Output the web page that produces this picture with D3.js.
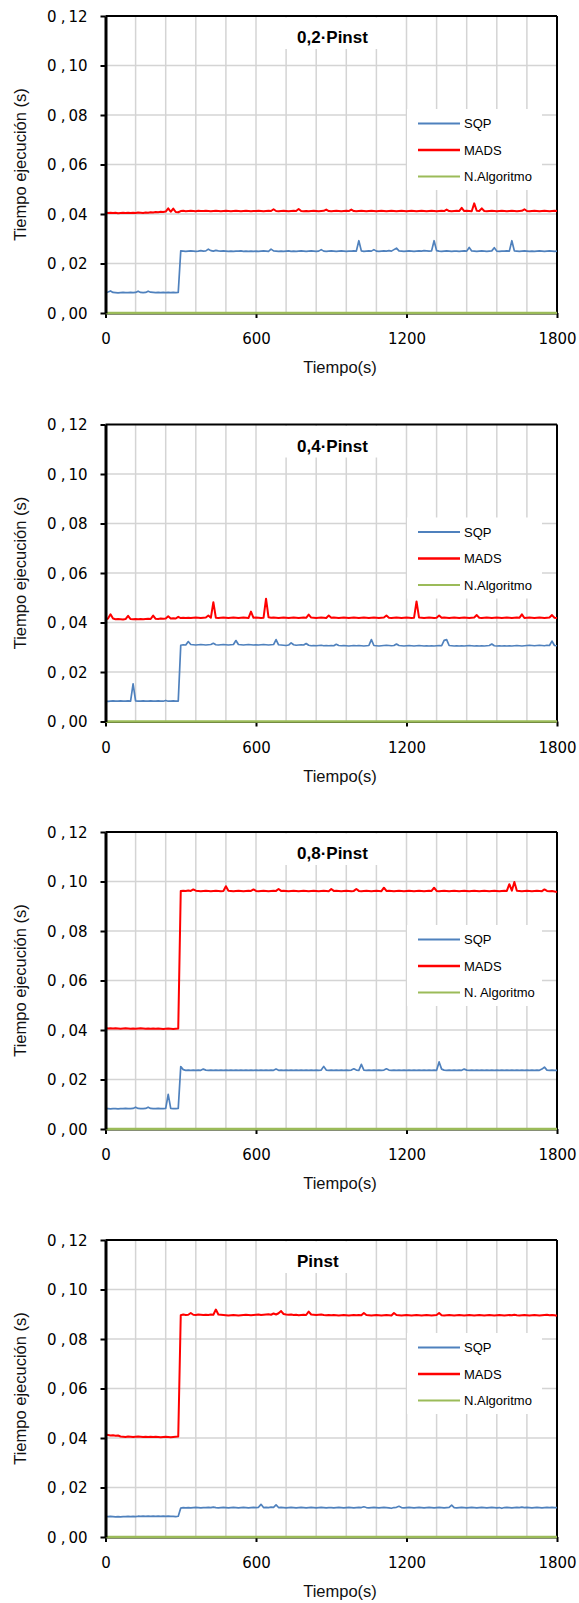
<!DOCTYPE html>
<html lang="es">
<head>
<meta charset="utf-8">
<title>Tiempo de ejecución</title>
<script src="https://cdn.jsdelivr.net/npm/d3@7"></script>
<style>
  html, body { margin: 0; padding: 0; background: #ffffff; }
  svg { display: block; }
</style>
</head>
<body>
<svg id="chart" width="579" height="1603"></svg>
<script>
// Tiempo de muestreo (s)
const tiempo = d3.range(0, 1801, 10);
const ticksX = [0, 600, 1200, 1800];
const ticksY = [0, 0.02, 0.04, 0.06, 0.08, 0.10, 0.12];
const series = ["SQP", "MADS", "N.Algoritmo"];
const titulos = ["0,2·Pinst", "0,4·Pinst", "0,8·Pinst", "Pinst"];
const etiquetasN = ["N.Algoritmo", "N.Algoritmo", "N. Algoritmo", "N.Algoritmo"];

// N.Algoritmo: tiempo de ejecución prácticamente nulo
const nAlgTiempo = [0, 300, 600, 900, 1200, 1500, 1800];
const nAlgValores = [0, 0, 0, 0, 0, 0, 0];

// 0,2·Pinst
const sqp02 = [
0.0083,0.0085,0.0089,0.0083,0.0082,0.0081,0.0082,0.0083,0.0082,0.0082,
0.0083,0.0082,0.0083,0.0088,0.0083,0.0082,0.0083,0.0088,0.0084,0.0083,
0.0082,0.0083,0.0082,0.0083,0.0082,0.0083,0.0082,0.0083,0.0082,0.0083,
0.0251,0.0250,0.0249,0.0250,0.0251,0.0250,0.0249,0.0250,0.0252,0.0250,
0.0251,0.0258,0.0252,0.0250,0.0253,0.0251,0.0250,0.0251,0.0250,0.0249,
0.0250,0.0249,0.0250,0.0250,0.0251,0.0249,0.0250,0.0249,0.0250,0.0249,
0.0250,0.0249,0.0250,0.0251,0.0250,0.0249,0.0258,0.0251,0.0250,0.0249,
0.0250,0.0249,0.0250,0.0251,0.0249,0.0250,0.0249,0.0250,0.0251,0.0250,
0.0249,0.0250,0.0251,0.0250,0.0249,0.0250,0.0256,0.0250,0.0249,0.0250,
0.0251,0.0250,0.0249,0.0250,0.0251,0.0250,0.0249,0.0250,0.0250,0.0251,
0.0250,0.0292,0.0251,0.0249,0.0250,0.0251,0.0250,0.0256,0.0250,0.0249,
0.0250,0.0251,0.0250,0.0252,0.0250,0.0256,0.0262,0.0251,0.0250,0.0249,
0.0250,0.0251,0.0250,0.0249,0.0250,0.0251,0.0250,0.0252,0.0251,0.0250,
0.0251,0.0292,0.0252,0.0250,0.0249,0.0250,0.0251,0.0250,0.0249,0.0250,
0.0250,0.0249,0.0250,0.0251,0.0250,0.0265,0.0251,0.0250,0.0249,0.0250,
0.0251,0.0250,0.0249,0.0250,0.0251,0.0264,0.0250,0.0249,0.0250,0.0250,
0.0251,0.0250,0.0292,0.0251,0.0250,0.0249,0.0250,0.0251,0.0250,0.0249,
0.0250,0.0249,0.0250,0.0251,0.0250,0.0249,0.0250,0.0251,0.0250,0.0249,
0.0250];
const mads02 = [
0.0406,0.0404,0.0405,0.0404,0.0405,0.0403,0.0404,0.0405,0.0404,0.0405,
0.0404,0.0405,0.0404,0.0406,0.0405,0.0404,0.0406,0.0405,0.0407,0.0406,
0.0408,0.0407,0.0409,0.0408,0.0410,0.0423,0.0409,0.0422,0.0408,0.0407,
0.0412,0.0413,0.0411,0.0412,0.0413,0.0412,0.0411,0.0413,0.0412,0.0412,
0.0413,0.0412,0.0411,0.0412,0.0413,0.0412,0.0411,0.0412,0.0413,0.0412,
0.0411,0.0412,0.0413,0.0412,0.0411,0.0412,0.0413,0.0412,0.0411,0.0412,
0.0412,0.0413,0.0412,0.0411,0.0412,0.0413,0.0412,0.0419,0.0412,0.0411,
0.0412,0.0413,0.0412,0.0411,0.0412,0.0413,0.0412,0.0420,0.0412,0.0411,
0.0412,0.0411,0.0412,0.0413,0.0412,0.0411,0.0412,0.0413,0.0418,0.0412,
0.0411,0.0412,0.0413,0.0412,0.0411,0.0412,0.0413,0.0412,0.0418,0.0412,
0.0411,0.0412,0.0413,0.0412,0.0411,0.0412,0.0413,0.0412,0.0411,0.0412,
0.0413,0.0412,0.0411,0.0412,0.0413,0.0412,0.0411,0.0412,0.0413,0.0412,
0.0411,0.0412,0.0413,0.0412,0.0411,0.0412,0.0413,0.0412,0.0411,0.0412,
0.0413,0.0412,0.0411,0.0412,0.0413,0.0412,0.0418,0.0412,0.0411,0.0412,
0.0413,0.0412,0.0425,0.0412,0.0413,0.0412,0.0411,0.0443,0.0413,0.0412,
0.0423,0.0412,0.0411,0.0412,0.0413,0.0412,0.0411,0.0412,0.0413,0.0412,
0.0411,0.0412,0.0413,0.0412,0.0411,0.0412,0.0413,0.0419,0.0412,0.0411,
0.0412,0.0413,0.0412,0.0411,0.0412,0.0413,0.0412,0.0411,0.0412,0.0413,
0.0412];

// 0,4·Pinst
const sqp04 = [
0.0082,0.0081,0.0082,0.0083,0.0082,0.0082,0.0083,0.0082,0.0082,0.0083,
0.0082,0.0152,0.0083,0.0082,0.0082,0.0083,0.0082,0.0082,0.0083,0.0082,
0.0082,0.0083,0.0082,0.0082,0.0085,0.0082,0.0082,0.0083,0.0082,0.0082,
0.0308,0.0310,0.0309,0.0323,0.0311,0.0310,0.0309,0.0310,0.0311,0.0310,
0.0309,0.0310,0.0311,0.0316,0.0310,0.0309,0.0310,0.0311,0.0310,0.0309,
0.0310,0.0311,0.0327,0.0311,0.0310,0.0309,0.0310,0.0311,0.0310,0.0309,
0.0310,0.0309,0.0310,0.0311,0.0310,0.0309,0.0310,0.0311,0.0331,0.0310,
0.0309,0.0308,0.0307,0.0309,0.0318,0.0310,0.0308,0.0309,0.0310,0.0309,
0.0315,0.0308,0.0306,0.0307,0.0306,0.0307,0.0308,0.0306,0.0307,0.0306,
0.0307,0.0306,0.0312,0.0307,0.0306,0.0307,0.0306,0.0305,0.0306,0.0307,
0.0306,0.0307,0.0306,0.0305,0.0306,0.0307,0.0331,0.0307,0.0306,0.0305,
0.0306,0.0307,0.0308,0.0307,0.0306,0.0307,0.0313,0.0307,0.0306,0.0305,
0.0306,0.0307,0.0306,0.0305,0.0306,0.0307,0.0306,0.0305,0.0306,0.0305,
0.0306,0.0305,0.0306,0.0307,0.0306,0.0328,0.0331,0.0307,0.0306,0.0305,
0.0306,0.0305,0.0306,0.0305,0.0306,0.0307,0.0306,0.0305,0.0306,0.0305,
0.0306,0.0305,0.0306,0.0307,0.0313,0.0306,0.0305,0.0306,0.0305,0.0306,
0.0305,0.0306,0.0305,0.0306,0.0307,0.0306,0.0305,0.0306,0.0307,0.0308,
0.0307,0.0306,0.0307,0.0308,0.0307,0.0306,0.0308,0.0307,0.0325,0.0307,
0.0306];
const mads04 = [
0.0412,0.0416,0.0433,0.0416,0.0413,0.0414,0.0413,0.0412,0.0414,0.0427,
0.0414,0.0413,0.0414,0.0413,0.0414,0.0413,0.0414,0.0415,0.0414,0.0428,
0.0415,0.0414,0.0416,0.0415,0.0416,0.0425,0.0416,0.0417,0.0416,0.0423,
0.0418,0.0419,0.0418,0.0419,0.0418,0.0419,0.0420,0.0419,0.0418,0.0419,
0.0420,0.0428,0.0419,0.0482,0.0419,0.0418,0.0419,0.0420,0.0419,0.0418,
0.0419,0.0420,0.0419,0.0418,0.0419,0.0420,0.0419,0.0418,0.0444,0.0419,
0.0420,0.0419,0.0418,0.0419,0.0496,0.0421,0.0419,0.0420,0.0419,0.0418,
0.0419,0.0420,0.0419,0.0418,0.0419,0.0420,0.0419,0.0418,0.0419,0.0420,
0.0419,0.0432,0.0420,0.0419,0.0418,0.0419,0.0420,0.0419,0.0418,0.0428,
0.0419,0.0420,0.0419,0.0418,0.0419,0.0420,0.0419,0.0418,0.0419,0.0420,
0.0419,0.0418,0.0419,0.0420,0.0419,0.0418,0.0419,0.0420,0.0419,0.0418,
0.0419,0.0420,0.0428,0.0419,0.0418,0.0419,0.0420,0.0419,0.0418,0.0419,
0.0420,0.0419,0.0418,0.0419,0.0485,0.0420,0.0419,0.0418,0.0419,0.0420,
0.0419,0.0418,0.0419,0.0428,0.0419,0.0420,0.0419,0.0418,0.0419,0.0420,
0.0419,0.0418,0.0419,0.0420,0.0419,0.0418,0.0419,0.0420,0.0430,0.0419,
0.0418,0.0419,0.0420,0.0419,0.0418,0.0419,0.0420,0.0419,0.0418,0.0419,
0.0420,0.0419,0.0418,0.0419,0.0420,0.0419,0.0433,0.0418,0.0419,0.0420,
0.0419,0.0418,0.0419,0.0420,0.0419,0.0418,0.0419,0.0420,0.0430,0.0419,
0.0418];

// 0,8·Pinst
const sqp08 = [
0.0083,0.0082,0.0081,0.0082,0.0082,0.0081,0.0082,0.0082,0.0083,0.0082,
0.0082,0.0083,0.0088,0.0083,0.0082,0.0082,0.0083,0.0088,0.0083,0.0082,
0.0082,0.0083,0.0082,0.0082,0.0083,0.0140,0.0083,0.0082,0.0082,0.0083,
0.0252,0.0240,0.0237,0.0238,0.0237,0.0238,0.0237,0.0238,0.0237,0.0242,
0.0238,0.0237,0.0238,0.0237,0.0238,0.0237,0.0238,0.0237,0.0238,0.0237,
0.0238,0.0237,0.0238,0.0237,0.0238,0.0237,0.0238,0.0237,0.0238,0.0237,
0.0238,0.0237,0.0238,0.0237,0.0238,0.0237,0.0238,0.0237,0.0242,0.0237,
0.0238,0.0237,0.0238,0.0237,0.0238,0.0237,0.0238,0.0237,0.0238,0.0237,
0.0238,0.0237,0.0238,0.0237,0.0238,0.0237,0.0238,0.0253,0.0238,0.0237,
0.0238,0.0237,0.0238,0.0237,0.0238,0.0237,0.0238,0.0237,0.0238,0.0243,
0.0238,0.0237,0.0261,0.0238,0.0237,0.0238,0.0237,0.0238,0.0237,0.0238,
0.0237,0.0238,0.0243,0.0238,0.0237,0.0238,0.0237,0.0238,0.0237,0.0238,
0.0237,0.0238,0.0237,0.0238,0.0237,0.0238,0.0237,0.0238,0.0237,0.0238,
0.0237,0.0238,0.0237,0.0271,0.0242,0.0238,0.0237,0.0238,0.0237,0.0238,
0.0237,0.0238,0.0237,0.0242,0.0238,0.0237,0.0238,0.0237,0.0238,0.0237,
0.0238,0.0237,0.0238,0.0237,0.0238,0.0237,0.0238,0.0237,0.0238,0.0237,
0.0238,0.0237,0.0238,0.0237,0.0238,0.0237,0.0238,0.0237,0.0238,0.0237,
0.0238,0.0237,0.0238,0.0237,0.0242,0.0250,0.0238,0.0237,0.0238,0.0237,
0.0237];
const mads08 = [
0.0408,0.0406,0.0407,0.0406,0.0407,0.0406,0.0405,0.0406,0.0407,0.0406,
0.0405,0.0406,0.0405,0.0406,0.0407,0.0406,0.0405,0.0406,0.0405,0.0406,
0.0405,0.0406,0.0405,0.0404,0.0405,0.0406,0.0405,0.0404,0.0405,0.0406,
0.0962,0.0963,0.0962,0.0964,0.0962,0.0968,0.0963,0.0962,0.0961,0.0962,
0.0963,0.0962,0.0961,0.0962,0.0963,0.0962,0.0961,0.0962,0.0981,0.0963,
0.0962,0.0961,0.0962,0.0963,0.0962,0.0961,0.0962,0.0963,0.0962,0.0968,
0.0962,0.0961,0.0962,0.0963,0.0962,0.0961,0.0962,0.0963,0.0962,0.0970,
0.0962,0.0963,0.0962,0.0961,0.0962,0.0963,0.0962,0.0961,0.0962,0.0963,
0.0962,0.0961,0.0962,0.0963,0.0962,0.0961,0.0962,0.0963,0.0962,0.0961,
0.0970,0.0962,0.0963,0.0962,0.0961,0.0962,0.0963,0.0962,0.0961,0.0962,
0.0970,0.0962,0.0961,0.0962,0.0963,0.0962,0.0961,0.0962,0.0963,0.0962,
0.0961,0.0975,0.0962,0.0963,0.0962,0.0961,0.0962,0.0963,0.0962,0.0961,
0.0962,0.0963,0.0962,0.0961,0.0962,0.0963,0.0962,0.0961,0.0962,0.0963,
0.0962,0.0975,0.0962,0.0961,0.0962,0.0963,0.0962,0.0961,0.0962,0.0963,
0.0962,0.0961,0.0962,0.0963,0.0962,0.0961,0.0962,0.0963,0.0962,0.0961,
0.0962,0.0963,0.0962,0.0961,0.0962,0.0963,0.0962,0.0961,0.0962,0.0963,
0.0962,0.0989,0.0963,0.0998,0.0963,0.0962,0.0961,0.0962,0.0963,0.0962,
0.0961,0.0962,0.0963,0.0962,0.0961,0.0968,0.0962,0.0961,0.0962,0.0960,
0.0958];

// Pinst
const sqp10 = [
0.0083,0.0082,0.0083,0.0082,0.0081,0.0082,0.0081,0.0082,0.0082,0.0083,
0.0082,0.0083,0.0082,0.0084,0.0083,0.0084,0.0083,0.0084,0.0083,0.0084,
0.0083,0.0084,0.0083,0.0084,0.0083,0.0084,0.0083,0.0083,0.0082,0.0084,
0.0117,0.0119,0.0118,0.0119,0.0118,0.0119,0.0120,0.0119,0.0118,0.0119,
0.0119,0.0120,0.0119,0.0121,0.0119,0.0118,0.0119,0.0120,0.0119,0.0118,
0.0119,0.0120,0.0119,0.0118,0.0119,0.0120,0.0119,0.0118,0.0119,0.0120,
0.0119,0.0120,0.0132,0.0119,0.0120,0.0119,0.0121,0.0120,0.0130,0.0119,
0.0120,0.0119,0.0118,0.0119,0.0120,0.0119,0.0118,0.0119,0.0120,0.0119,
0.0118,0.0119,0.0120,0.0119,0.0118,0.0119,0.0120,0.0119,0.0118,0.0119,
0.0119,0.0118,0.0119,0.0120,0.0119,0.0118,0.0119,0.0120,0.0119,0.0118,
0.0119,0.0120,0.0119,0.0122,0.0119,0.0118,0.0119,0.0120,0.0119,0.0118,
0.0119,0.0120,0.0119,0.0118,0.0116,0.0119,0.0120,0.0124,0.0119,0.0118,
0.0119,0.0120,0.0119,0.0118,0.0119,0.0120,0.0119,0.0118,0.0119,0.0120,
0.0119,0.0118,0.0119,0.0120,0.0119,0.0118,0.0119,0.0120,0.0129,0.0119,
0.0118,0.0119,0.0120,0.0119,0.0118,0.0119,0.0120,0.0119,0.0118,0.0119,
0.0120,0.0119,0.0118,0.0119,0.0120,0.0119,0.0118,0.0119,0.0116,0.0119,
0.0120,0.0119,0.0118,0.0119,0.0120,0.0119,0.0121,0.0119,0.0120,0.0119,
0.0118,0.0119,0.0120,0.0119,0.0118,0.0119,0.0120,0.0119,0.0120,0.0119,
0.0119];
const mads10 = [
0.0414,0.0412,0.0410,0.0411,0.0409,0.0410,0.0406,0.0405,0.0404,0.0406,
0.0405,0.0404,0.0405,0.0406,0.0405,0.0404,0.0405,0.0404,0.0405,0.0404,
0.0405,0.0404,0.0403,0.0404,0.0405,0.0404,0.0403,0.0404,0.0405,0.0406,
0.0896,0.0899,0.0897,0.0898,0.0905,0.0898,0.0897,0.0899,0.0898,0.0897,
0.0898,0.0897,0.0899,0.0898,0.0919,0.0899,0.0898,0.0897,0.0896,0.0895,
0.0896,0.0897,0.0896,0.0895,0.0896,0.0897,0.0898,0.0897,0.0896,0.0897,
0.0898,0.0899,0.0897,0.0898,0.0899,0.0900,0.0898,0.0903,0.0899,0.0904,
0.0913,0.0901,0.0899,0.0898,0.0899,0.0897,0.0898,0.0896,0.0897,0.0898,
0.0897,0.0911,0.0899,0.0898,0.0897,0.0898,0.0899,0.0897,0.0896,0.0897,
0.0896,0.0897,0.0896,0.0895,0.0896,0.0897,0.0896,0.0895,0.0896,0.0897,
0.0896,0.0897,0.0896,0.0905,0.0897,0.0896,0.0895,0.0896,0.0897,0.0896,
0.0895,0.0896,0.0897,0.0896,0.0895,0.0905,0.0897,0.0896,0.0895,0.0896,
0.0897,0.0896,0.0895,0.0896,0.0897,0.0896,0.0895,0.0896,0.0897,0.0896,
0.0895,0.0896,0.0897,0.0905,0.0896,0.0895,0.0896,0.0897,0.0896,0.0895,
0.0896,0.0897,0.0896,0.0895,0.0896,0.0897,0.0896,0.0895,0.0896,0.0897,
0.0896,0.0895,0.0896,0.0897,0.0896,0.0895,0.0896,0.0897,0.0896,0.0895,
0.0896,0.0897,0.0896,0.0898,0.0896,0.0895,0.0896,0.0897,0.0896,0.0895,
0.0896,0.0897,0.0896,0.0895,0.0896,0.0897,0.0898,0.0896,0.0897,0.0896,
0.0894];

const paneles = [
  { titulo: titulos[0], sqp: sqp02, mads: mads02, etiquetaN: etiquetasN[0] },
  { titulo: titulos[1], sqp: sqp04, mads: mads04, etiquetaN: etiquetasN[1] },
  { titulo: titulos[2], sqp: sqp08, mads: mads08, etiquetaN: etiquetasN[2] },
  { titulo: titulos[3], sqp: sqp10, mads: mads10, etiquetaN: etiquetasN[3] }
];

// ---- Dibujo ----
const colores = { SQP: "#4F81BD", MADS: "#FF0000", N: "#9BBB59" };
const svg = d3.select("#chart");
const left = 105.5, right = 557, alto = 297;
const tops = [16, 424.5, 832, 1240];

const x = d3.scaleLinear().domain([0, 1800]).range([left, right]);
const fuenteEjes = "'DejaVu Sans', Verdana, sans-serif";
const fuenteTexto = "'Liberation Sans', Arial, sans-serif";

paneles.forEach((p, i) => {
  const top = tops[i], bottom = top + alto;
  const y = d3.scaleLinear().domain([0, 0.12]).range([bottom, top]);
  const g = svg.append("g");

  // Rejilla
  g.append("g").selectAll("line.v").data(d3.range(120, 1800, 120)).join("line")
    .attr("x1", d => x(d)).attr("x2", d => x(d)).attr("y1", top).attr("y2", bottom)
    .attr("stroke", "#D4D4D4").attr("stroke-width", 1.5);
  g.append("g").selectAll("line.h").data(ticksY.slice(1, -1)).join("line")
    .attr("x1", left).attr("x2", right).attr("y1", d => y(d)).attr("y2", d => y(d))
    .attr("stroke", "#D4D4D4").attr("stroke-width", 1.5);

  // Título del panel con fondo blanco
  const titulo = g.append("text")
    .attr("x", 297).attr("y", top + 27)
    .attr("font-family", fuenteTexto).attr("font-weight", "bold").attr("font-size", 17)
    .attr("fill", "#000").text(p.titulo);
  const bb = titulo.node().getBBox();
  g.insert("rect", "text")
    .attr("x", bb.x - 12).attr("y", top + 1.5).attr("width", bb.width + 24).attr("height", 31.5)
    .attr("fill", "#fff");

  // Fondo de la leyenda
  g.append("rect").attr("x", 407).attr("y", top + 93).attr("width", 135).attr("height", 81)
    .attr("fill", "#fff");

  // Marco (superior, derecho)
  g.append("line").attr("x1", left).attr("x2", right).attr("y1", top).attr("y2", top)
    .attr("stroke", "#000").attr("stroke-width", 2);
  g.append("line").attr("x1", right).attr("x2", right).attr("y1", top).attr("y2", bottom)
    .attr("stroke", "#000").attr("stroke-width", 2);

  // Eje X
  const ejeX = g.append("g").attr("transform", `translate(0,${bottom})`)
    .call(d3.axisBottom(x).tickValues(ticksX).tickFormat(d3.format("d"))
      .tickSize(5).tickSizeOuter(0));
  ejeX.select(".domain").attr("stroke", "#000").attr("stroke-width", 2);
  ejeX.selectAll(".tick line").attr("stroke", "#000").attr("stroke-width", 2);
  ejeX.selectAll(".tick text").attr("font-family", fuenteEjes).attr("font-size", 15)
    .attr("fill", "#000").attr("dy", null).attr("y", 31);

  // Series
  const linea = d3.line().x(d => x(d[0])).y(d => y(d[1]));
  g.append("path").datum(tiempo.map((t, k) => [t, p.sqp[k]]))
    .attr("d", linea).attr("fill", "none").attr("stroke", colores.SQP)
    .attr("stroke-width", 1.7).attr("stroke-linejoin", "round");
  g.append("path").datum(tiempo.map((t, k) => [t, p.mads[k]]))
    .attr("d", linea).attr("fill", "none").attr("stroke", colores.MADS)
    .attr("stroke-width", 2).attr("stroke-linejoin", "round");
  g.append("path").datum(nAlgTiempo.map((t, k) => [t, nAlgValores[k]]))
    .attr("d", linea).attr("fill", "none").attr("stroke", colores.N)
    .attr("stroke-width", 2.6);

  // Eje Y
  const ejeY = g.append("g").attr("transform", `translate(${left},0)`)
    .call(d3.axisLeft(y).tickValues(ticksY).tickSize(5).tickSizeOuter(0)
      .tickFormat(d => d3.format(".2f")(d).replace(".", ",")));
  ejeY.select(".domain").attr("stroke", "#000").attr("stroke-width", 3);
  ejeY.selectAll(".tick line").attr("stroke", "#000").attr("stroke-width", 2);
  ejeY.selectAll(".tick text").each(function(d) {
    const s = d3.format(".2f")(d).split(".");
    const t = d3.select(this).text(null)
      .attr("font-family", fuenteEjes).attr("font-size", 15).attr("fill", "#000")
      .attr("x", -18).attr("dy", "0.36em");
    t.append("tspan").text(s[0]);
    t.append("tspan").attr("dx", 4).text(",");
    t.append("tspan").attr("dx", 3).text(s[1]);
  });

  // Títulos de ejes
  g.append("text")
    .attr("transform", `translate(26,${(top + bottom) / 2}) rotate(-90)`)
    .attr("text-anchor", "middle").attr("font-family", fuenteTexto).attr("font-size", 16.5)
    .attr("fill", "#111").text("Tiempo ejecución (s)");
  g.append("text")
    .attr("x", 340).attr("y", bottom + 60).attr("text-anchor", "middle")
    .attr("font-family", fuenteTexto).attr("font-size", 16.5)
    .attr("fill", "#111").text("Tiempo(s)");

  // Leyenda
  const items = [
    { nombre: series[0], color: colores.SQP, w: 2 },
    { nombre: series[1], color: colores.MADS, w: 2.5 },
    { nombre: p.etiquetaN, color: colores.N, w: 2.2 }
  ];
  const ley = g.append("g").selectAll("g").data(items).join("g")
    .attr("transform", (d, k) => `translate(0,${top + 107.5 + k * 26.5})`);
  ley.append("line").attr("x1", 418).attr("x2", 460).attr("y1", 0).attr("y2", 0)
    .attr("stroke", d => d.color).attr("stroke-width", d => d.w);
  ley.append("text").attr("x", 464).attr("y", 4.7)
    .attr("font-family", fuenteTexto).attr("font-size", 13).attr("fill", "#000")
    .text(d => d.nombre);
});
</script>
</body>
</html>
